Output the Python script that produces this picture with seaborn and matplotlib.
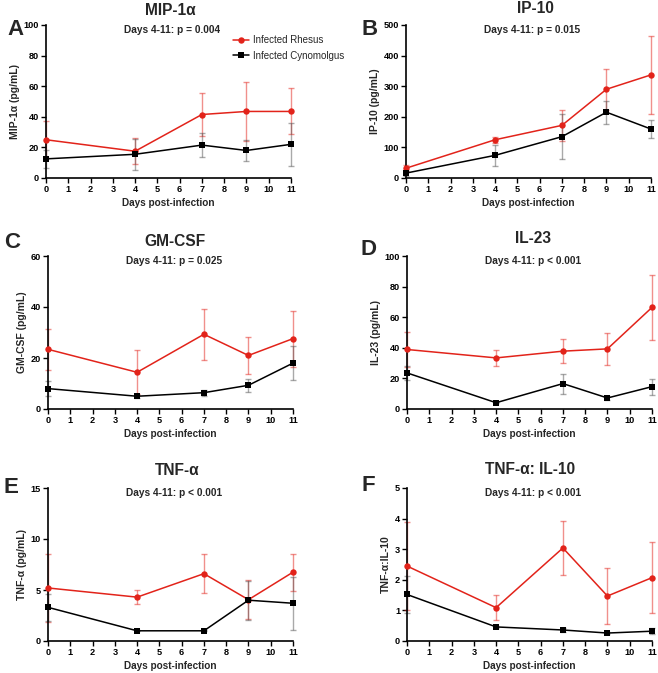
import numpy as np
import pandas as pd
import matplotlib
matplotlib.use("Agg")
import matplotlib.pyplot as plt
import seaborn as sns

sns.set_style("ticks")
plt.rcParams['font.family'] = ['Liberation Sans', 'DejaVu Sans']

days = [0, 4, 7, 9, 11]
groups = ["Infected Rhesus", "Infected Cynomolgus"]

titles = ["MIP-1\u03b1", "IP-10", "GM-CSF", "IL-23", "TNF-\u03b1", "TNF-\u03b1: IL-10"]
ylabels = ["MIP-1\u03b1 (pg/mL)", "IP-10 (pg/mL)", "GM-CSF (pg/mL)", "IL-23 (pg/mL)",
           "TNF-\u03b1 (pg/mL)", "TNF-\u03b1:IL-10"]
pvals = ["Days 4-11: p = 0.004", "Days 4-11: p = 0.015", "Days 4-11: p = 0.025",
         "Days 4-11: p < 0.001", "Days 4-11: p < 0.001", "Days 4-11: p < 0.001"]
letters = ["A", "B", "C", "D", "E", "F"]
ymax = [100, 500, 60, 100, 15, 5]
ystep = [20, 100, 20, 20, 5, 1]

# means and errors (Rhesus, Cynomolgus)
mip_rh = [25, 17.5, 41.5, 43.5, 43.5];   mip_rh_err = [12, 8.5, 14, 19, 15]
mip_cy = [12.5, 15.5, 21.5, 18, 22];     mip_cy_err = [6, 10, 8, 7, 14]
ip_rh = [32, 125, 172, 290, 337];        ip_rh_err = [10, 10, 50, 67, 127]
ip_cy = [16, 74, 135, 215, 160];         ip_cy_err = [8, 35, 73, 38, 30]
gm_rh = [23.4, 14.4, 29.3, 21, 27.6];    gm_rh_err = [8, 8.6, 10, 7.4, 11]
gm_cy = [8, 5, 6.4, 9.3, 18];            gm_cy_err = [3, 0.5, 1.2, 2.5, 6.7]
il23_rh = [38.9, 33.4, 37.8, 39.3, 66.4]; il23_rh_err = [11.5, 5, 8, 10.7, 21]
il23_cy = [23.6, 4.1, 16.6, 7.2, 14.6];   il23_cy_err = [4.8, 0.5, 6.5, 1.2, 5.3]
tnf_rh = [5.2, 4.3, 6.6, 4.05, 6.75];    tnf_rh_err = [3.3, 0.7, 1.9, 1.9, 1.8]
tnf_cy = [3.3, 1.0, 1.0, 4.0, 3.7];      tnf_cy_err = [1.3, 0.05, 0.05, 1.9, 2.6]
ratio_rh = [2.45, 1.09, 3.04, 1.47, 2.07]; ratio_rh_err = [1.45, 0.42, 0.89, 0.9, 1.15]
ratio_cy = [1.52, 0.46, 0.36, 0.26, 0.32]; ratio_cy_err = [0.6, 0.03, 0.05, 0.03, 0.1]

panels = [
    (mip_rh, mip_rh_err, mip_cy, mip_cy_err),
    (ip_rh, ip_rh_err, ip_cy, ip_cy_err),
    (gm_rh, gm_rh_err, gm_cy, gm_cy_err),
    (il23_rh, il23_rh_err, il23_cy, il23_cy_err),
    (tnf_rh, tnf_rh_err, tnf_cy, tnf_cy_err),
    (ratio_rh, ratio_rh_err, ratio_cy, ratio_cy_err),
]

W, H = 658, 673
fig = plt.figure(figsize=(W / 100, H / 100), dpi=100)

red = "#e2231a"
blk = "#000000"
palette = {groups[0]: red, groups[1]: blk}

# axes boxes in pixel coords: (left, top)
boxes = [(46, 25), (406, 25), (48, 256), (407, 256), (48, 488), (407, 488)]
aw, ah = 245, 153
letter_pos = [(15, 35), (370, 35), (12, 248), (369, 255), (11, 493), (368, 491)]
title_pos = [(170, 15), (535, 13), (175, 246), (533, 243), (177, 475), (530, 474)]

for i in range(6):
    l, t = boxes[i]
    ax = fig.add_axes([l / W, (H - t - ah) / H, aw / W, ah / H])
    rh, rh_e, cy, cy_e = panels[i]
    df = pd.DataFrame({
        "day": days * 2,
        "value": list(rh) + list(cy),
        "group": [groups[0]] * 5 + [groups[1]] * 5,
    })
    # error bars
    ax.errorbar(days, rh, yerr=rh_e, fmt="none", ecolor=red, alpha=0.5,
                elinewidth=1.0, capsize=2.5, capthick=1.0, zorder=2, clip_on=False)
    ax.errorbar(days, cy, yerr=cy_e, fmt="none", ecolor="#555555", alpha=0.5,
                elinewidth=1.0, capsize=2.5, capthick=1.0, zorder=2, clip_on=False)
    sns.lineplot(data=df, x="day", y="value", hue="group", style="group",
                 hue_order=groups, style_order=groups, palette=palette,
                 markers={groups[0]: "o", groups[1]: "s"}, dashes=False,
                 markersize=4.6, markeredgewidth=0, linewidth=1.1,
                 legend=(i == 0), ax=ax, zorder=3)
    for ln in ax.lines:
        ln.set_clip_on(False)
        if ln.get_marker() == "s":
            ln.set_markersize(4.2)
    ax.set_xlim(0, 11)
    ax.set_ylim(0, ymax[i])
    ax.set_xticks(range(0, 12))
    ax.set_yticks(np.arange(0, ymax[i] + ystep[i] / 2, ystep[i]))
    ax.tick_params(axis="both", labelsize=6.6, length=3.5, width=1.0, pad=1.5, colors="black")
    for lab in ax.get_xticklabels() + ax.get_yticklabels():
        lab.set_fontweight("bold")
    for s in ["left", "bottom"]:
        ax.spines[s].set_linewidth(1.2)
        ax.spines[s].set_color("black")
    sns.despine(ax=ax)
    ax.set_xlabel("Days post-infection", fontsize=7.2, fontweight="bold", labelpad=3)
    ax.set_ylabel(ylabels[i], fontsize=7.5, fontweight="bold", labelpad=3)
    ax.text(0.515, 0.965, pvals[i], transform=ax.transAxes, ha="center", va="center",
            fontsize=7.3, fontweight="bold")
    tx, ty = title_pos[i]
    fig.text(tx / W, 1 - ty / H, titles[i], ha="center", va="baseline",
             fontsize=11.2, fontweight="bold")
    lx, ly = letter_pos[i]
    fig.text(lx / W, 1 - ly / H, letters[i], ha="center", va="baseline",
             fontsize=16, fontweight="bold")
    if i == 0:
        leg = ax.legend(loc="upper left", bbox_to_anchor=((233 - 46) / aw, (178 - 35) / ah),
                        frameon=False, fontsize=7, handlelength=1.6, handletextpad=0.5,
                        labelspacing=0.6, borderpad=0, borderaxespad=0)
        for h in leg.legend_handles:
            h.set_markersize(4.6)

fig.savefig("out.png", dpi=100)
